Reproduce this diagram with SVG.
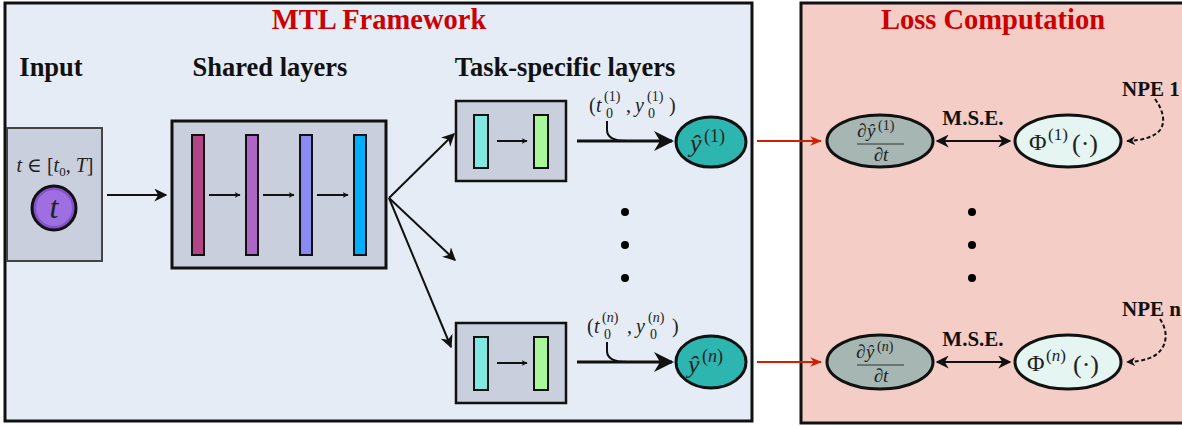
<svg xmlns="http://www.w3.org/2000/svg" width="1182" height="426" viewBox="0 0 1182 426">
<style>
.frame{stroke:#111;stroke-width:3}
.title{font-family:"Liberation Serif",serif;font-weight:bold;font-size:28.5px;fill:#cc0000;text-anchor:middle}
.head{font-family:"Liberation Serif",serif;font-weight:bold;font-size:26.5px;fill:#111;text-anchor:middle}
.lbl{font-family:"Liberation Serif",serif;font-weight:bold;font-size:21px;fill:#111;text-anchor:middle}
.lbls{font-family:"Liberation Serif",serif;font-weight:bold;font-size:21px;fill:#111}
.math{font-family:"Liberation Serif","DejaVu Serif",serif;fill:#222}
.box{fill:#c9cfdd;stroke:#111}
.bar{stroke:#111;stroke-width:2}
.arr{fill:none;stroke:#111;stroke-width:2}
.thick{fill:none;stroke:#111;stroke-width:3}
.red{fill:none;stroke:#cc2200;stroke-width:2}
.dash{fill:none;stroke:#111;stroke-width:2;stroke-dasharray:4 2.5}
.dot{fill:#000}
.ell{stroke:#111;stroke-width:3}
</style>
<defs>
<marker id="ah" viewBox="0 0 10 10" refX="9" refY="5" markerWidth="6" markerHeight="6" orient="auto-start-reverse" markerUnits="userSpaceOnUse">
<path d="M0,0 L10,5 L0,10 L3,5 z" fill="#111"/>
</marker>
<marker id="ahs" viewBox="0 0 10 10" refX="9" refY="5" markerWidth="9" markerHeight="9" orient="auto-start-reverse" markerUnits="userSpaceOnUse">
<path d="M0,0 L10,5 L0,10 L3,5 z" fill="#111"/>
</marker>
<marker id="ahm" viewBox="0 0 10 10" refX="9" refY="5" markerWidth="13" markerHeight="13" orient="auto-start-reverse" markerUnits="userSpaceOnUse">
<path d="M0,0 L10,5 L0,10 L3,5 z" fill="#111"/>
</marker>
<marker id="ahl" viewBox="0 0 10 10" refX="9" refY="5" markerWidth="20" markerHeight="20" orient="auto" markerUnits="userSpaceOnUse">
<path d="M0,0 L10,5 L0,10 L3,5 z" fill="#111"/>
</marker>
<marker id="ahr" viewBox="0 0 10 10" refX="9" refY="5" markerWidth="12" markerHeight="12" orient="auto" markerUnits="userSpaceOnUse">
<path d="M0,1 L10,5 L0,9 L3,5 z" fill="#cc2200"/>
</marker>
</defs>

<g id="mtl-frame">
<rect x="5" y="3" width="747" height="418" fill="#e5ecf5" class="frame"/>
<text class="title" x="379" y="29">MTL Framework</text>
</g>
<g id="loss-frame">
<rect x="801" y="3" width="400" height="420" fill="#f3cdc6" class="frame"/>
<text class="title" x="993" y="29">Loss Computation</text>
</g>

<g id="headings">
<text class="head" x="51" y="76">Input</text>
<text class="head" x="270" y="76">Shared layers</text>
<text class="head" x="565" y="76">Task-specific layers</text>
</g>

<g id="input">
<rect x="7" y="128" width="95" height="133" class="box" stroke-width="2" style="stroke:#444"/>
<text class="math" x="55" y="172" font-size="20" text-anchor="middle"><tspan font-style="italic">t</tspan> ∈ [<tspan font-style="italic">t</tspan><tspan font-size="13" dy="4">0</tspan><tspan dy="-4">, </tspan><tspan font-style="italic">T</tspan>]</text>
<circle cx="54" cy="208" r="22" fill="#8452c8" stroke="#111" stroke-width="3"/>
<circle cx="54" cy="208" r="18" fill="#9d6fe0"/>
<text class="math" x="54" y="218" font-size="32" font-style="italic" text-anchor="middle">t</text>
</g>

<g id="shared">
<rect x="172" y="121" width="214" height="147" class="box" stroke-width="3"/>
<rect x="192" y="135" width="12" height="120" fill="#b44488" class="bar"/>
<rect x="246" y="135" width="12" height="120" fill="#ae66c6" class="bar"/>
<rect x="300" y="135" width="12" height="120" fill="#8a8af5" class="bar"/>
<rect x="354" y="135" width="12" height="120" fill="#00b0ff" class="bar"/>
</g>

<g id="task1">
<rect x="456" y="101" width="110" height="80" class="box" stroke-width="2.5"/>
<rect x="474" y="115" width="14" height="53" fill="#80e8e0" class="bar"/>
<rect x="534" y="115" width="14" height="53" fill="#aaf79a" class="bar"/>
</g>
<g id="taskn">
<rect x="456" y="323" width="110" height="80" class="box" stroke-width="2.5"/>
<rect x="474" y="337" width="14" height="53" fill="#80e8e0" class="bar"/>
<rect x="534" y="337" width="14" height="53" fill="#aaf79a" class="bar"/>
</g>

<g id="yhat1">
<ellipse cx="711" cy="142" rx="35" ry="25" fill="#2db6b0" class="ell"/>
<text class="math" font-size="26"><tspan x="690" y="152" font-style="italic">ŷ</tspan><tspan x="704" y="142" font-size="18">(1)</tspan></text>
</g>
<g id="yhatn">
<ellipse cx="711" cy="362" rx="35" ry="26" fill="#2db6b0" class="ell"/>
<text class="math" font-size="26"><tspan x="688" y="373" font-style="italic">ŷ</tspan><tspan x="702" y="362" font-size="18">(<tspan font-style="italic">n</tspan>)</tspan></text>
</g>

<g id="init1">
<text class="math" font-size="20"><tspan x="589" y="112">(</tspan><tspan x="596" y="112" font-style="italic">t</tspan><tspan x="604" y="101" font-size="14">(1)</tspan><tspan x="606" y="118" font-size="14">0</tspan><tspan x="626" y="112">,</tspan><tspan x="635" y="112" font-style="italic">y</tspan><tspan x="647" y="101" font-size="14">(1)</tspan><tspan x="648" y="118" font-size="14">0</tspan><tspan x="669" y="112">)</tspan></text>
</g>
<g id="initn">
<text class="math" font-size="20"><tspan x="587" y="333">(</tspan><tspan x="594" y="333" font-style="italic">t</tspan><tspan x="602" y="322" font-size="14">(<tspan font-style="italic">n</tspan>)</tspan><tspan x="604" y="339" font-size="14">0</tspan><tspan x="627" y="333">,</tspan><tspan x="636" y="333" font-style="italic">y</tspan><tspan x="648" y="322" font-size="14">(<tspan font-style="italic">n</tspan>)</tspan><tspan x="650" y="339" font-size="14">0</tspan><tspan x="672" y="333">)</tspan></text>
</g>

<g id="dots-mtl">
<circle cx="625" cy="212" r="4" class="dot"/>
<circle cx="625" cy="245" r="4" class="dot"/>
<circle cx="625" cy="278" r="4" class="dot"/>
</g>

<g id="dydt1">
<ellipse cx="880" cy="141" rx="53" ry="26" fill="#a6b6b2" class="ell"/>
<text class="math" font-size="19"><tspan x="857" y="137">∂</tspan><tspan x="867" y="137" font-style="italic">ŷ</tspan><tspan x="878" y="130" font-size="14">(1)</tspan></text>
<line x1="857" y1="144" x2="904" y2="144" stroke="#333" stroke-width="1.2"/>
<text class="math" font-size="19" x="881" y="161" text-anchor="middle">∂<tspan font-style="italic">t</tspan></text>
</g>
<g id="phi1">
<ellipse cx="1068" cy="141" rx="53" ry="26" fill="#e4f5f2" class="ell"/>
<text class="math" font-size="24"><tspan x="1029" y="150">Φ</tspan><tspan x="1048" y="140" font-size="17">(1)</tspan><tspan x="1072" y="152" font-size="26">(·)</tspan></text>
</g>
<g id="dydtn">
<ellipse cx="880" cy="362" rx="53" ry="27" fill="#a6b6b2" class="ell"/>
<text class="math" font-size="19"><tspan x="856" y="358">∂</tspan><tspan x="866" y="358" font-style="italic">ŷ</tspan><tspan x="877" y="351" font-size="14">(<tspan font-style="italic">n</tspan>)</tspan></text>
<line x1="857" y1="365" x2="904" y2="365" stroke="#333" stroke-width="1.2"/>
<text class="math" font-size="19" x="881" y="382" text-anchor="middle">∂<tspan font-style="italic">t</tspan></text>
</g>
<g id="phin">
<ellipse cx="1068" cy="362" rx="53" ry="27" fill="#e4f5f2" class="ell"/>
<text class="math" font-size="24"><tspan x="1027" y="371">Φ</tspan><tspan x="1046" y="361" font-size="17">(<tspan font-style="italic">n</tspan>)</tspan><tspan x="1073" y="373" font-size="26">(·)</tspan></text>
</g>

<g id="dots-loss">
<circle cx="972" cy="212" r="4" class="dot"/>
<circle cx="972" cy="245" r="4" class="dot"/>
<circle cx="972" cy="278" r="4" class="dot"/>
</g>

<g id="labels-loss">
<text class="lbl" x="973" y="125">M.S.E.</text>
<text class="lbl" x="973" y="346">M.S.E.</text>
<text class="lbls" x="1122" y="96">NPE 1</text>
<text class="lbls" x="1122" y="316">NPE n</text>
</g>

<g id="connectors">
<line x1="107" y1="195" x2="166" y2="195" class="arr" stroke-width="2.5" marker-end="url(#ahm)"/>
<line x1="209" y1="195" x2="240" y2="195" class="arr" stroke-width="1.5" marker-end="url(#ah)"/>
<line x1="263" y1="195" x2="294" y2="195" class="arr" stroke-width="1.5" marker-end="url(#ah)"/>
<line x1="317" y1="195" x2="348" y2="195" class="arr" stroke-width="1.5" marker-end="url(#ah)"/>
<path d="M389,198 L454,134" class="arr" marker-end="url(#ahm)"/>
<path d="M389,198 L455,260" class="arr" marker-end="url(#ahm)"/>
<path d="M389,198 L451,347" class="arr" marker-end="url(#ahm)"/>
<line x1="497" y1="141" x2="527" y2="141" class="arr" stroke-width="1.5" marker-end="url(#ah)"/>
<line x1="497" y1="363" x2="527" y2="363" class="arr" stroke-width="1.5" marker-end="url(#ah)"/>
<line x1="577" y1="141" x2="672" y2="141" class="thick" marker-end="url(#ahl)"/>
<path d="M607,121 L607,130 Q607,141 627,141" class="arr"/>
<line x1="577" y1="362" x2="672" y2="362" class="thick" marker-end="url(#ahl)"/>
<path d="M607,342 L607,351 Q607,362 627,362" class="arr"/>
<line x1="757" y1="141" x2="821" y2="141" class="red" marker-end="url(#ahr)"/>
<line x1="757" y1="362" x2="821" y2="362" class="red" marker-end="url(#ahr)"/>
<line x1="937" y1="141" x2="1010" y2="141" class="arr" marker-start="url(#ahm)" marker-end="url(#ahm)"/>
<line x1="937" y1="362" x2="1010" y2="362" class="arr" marker-start="url(#ahm)" marker-end="url(#ahm)"/>
<path d="M1155,99 C1163,110 1166,122 1160,130 Q1152,140 1127,141" class="dash" marker-end="url(#ahs)"/>
<path d="M1160,319 C1168,331 1167,343 1160,351 Q1152,361 1127,362" class="dash" marker-end="url(#ahs)"/>
</g>
</svg>
